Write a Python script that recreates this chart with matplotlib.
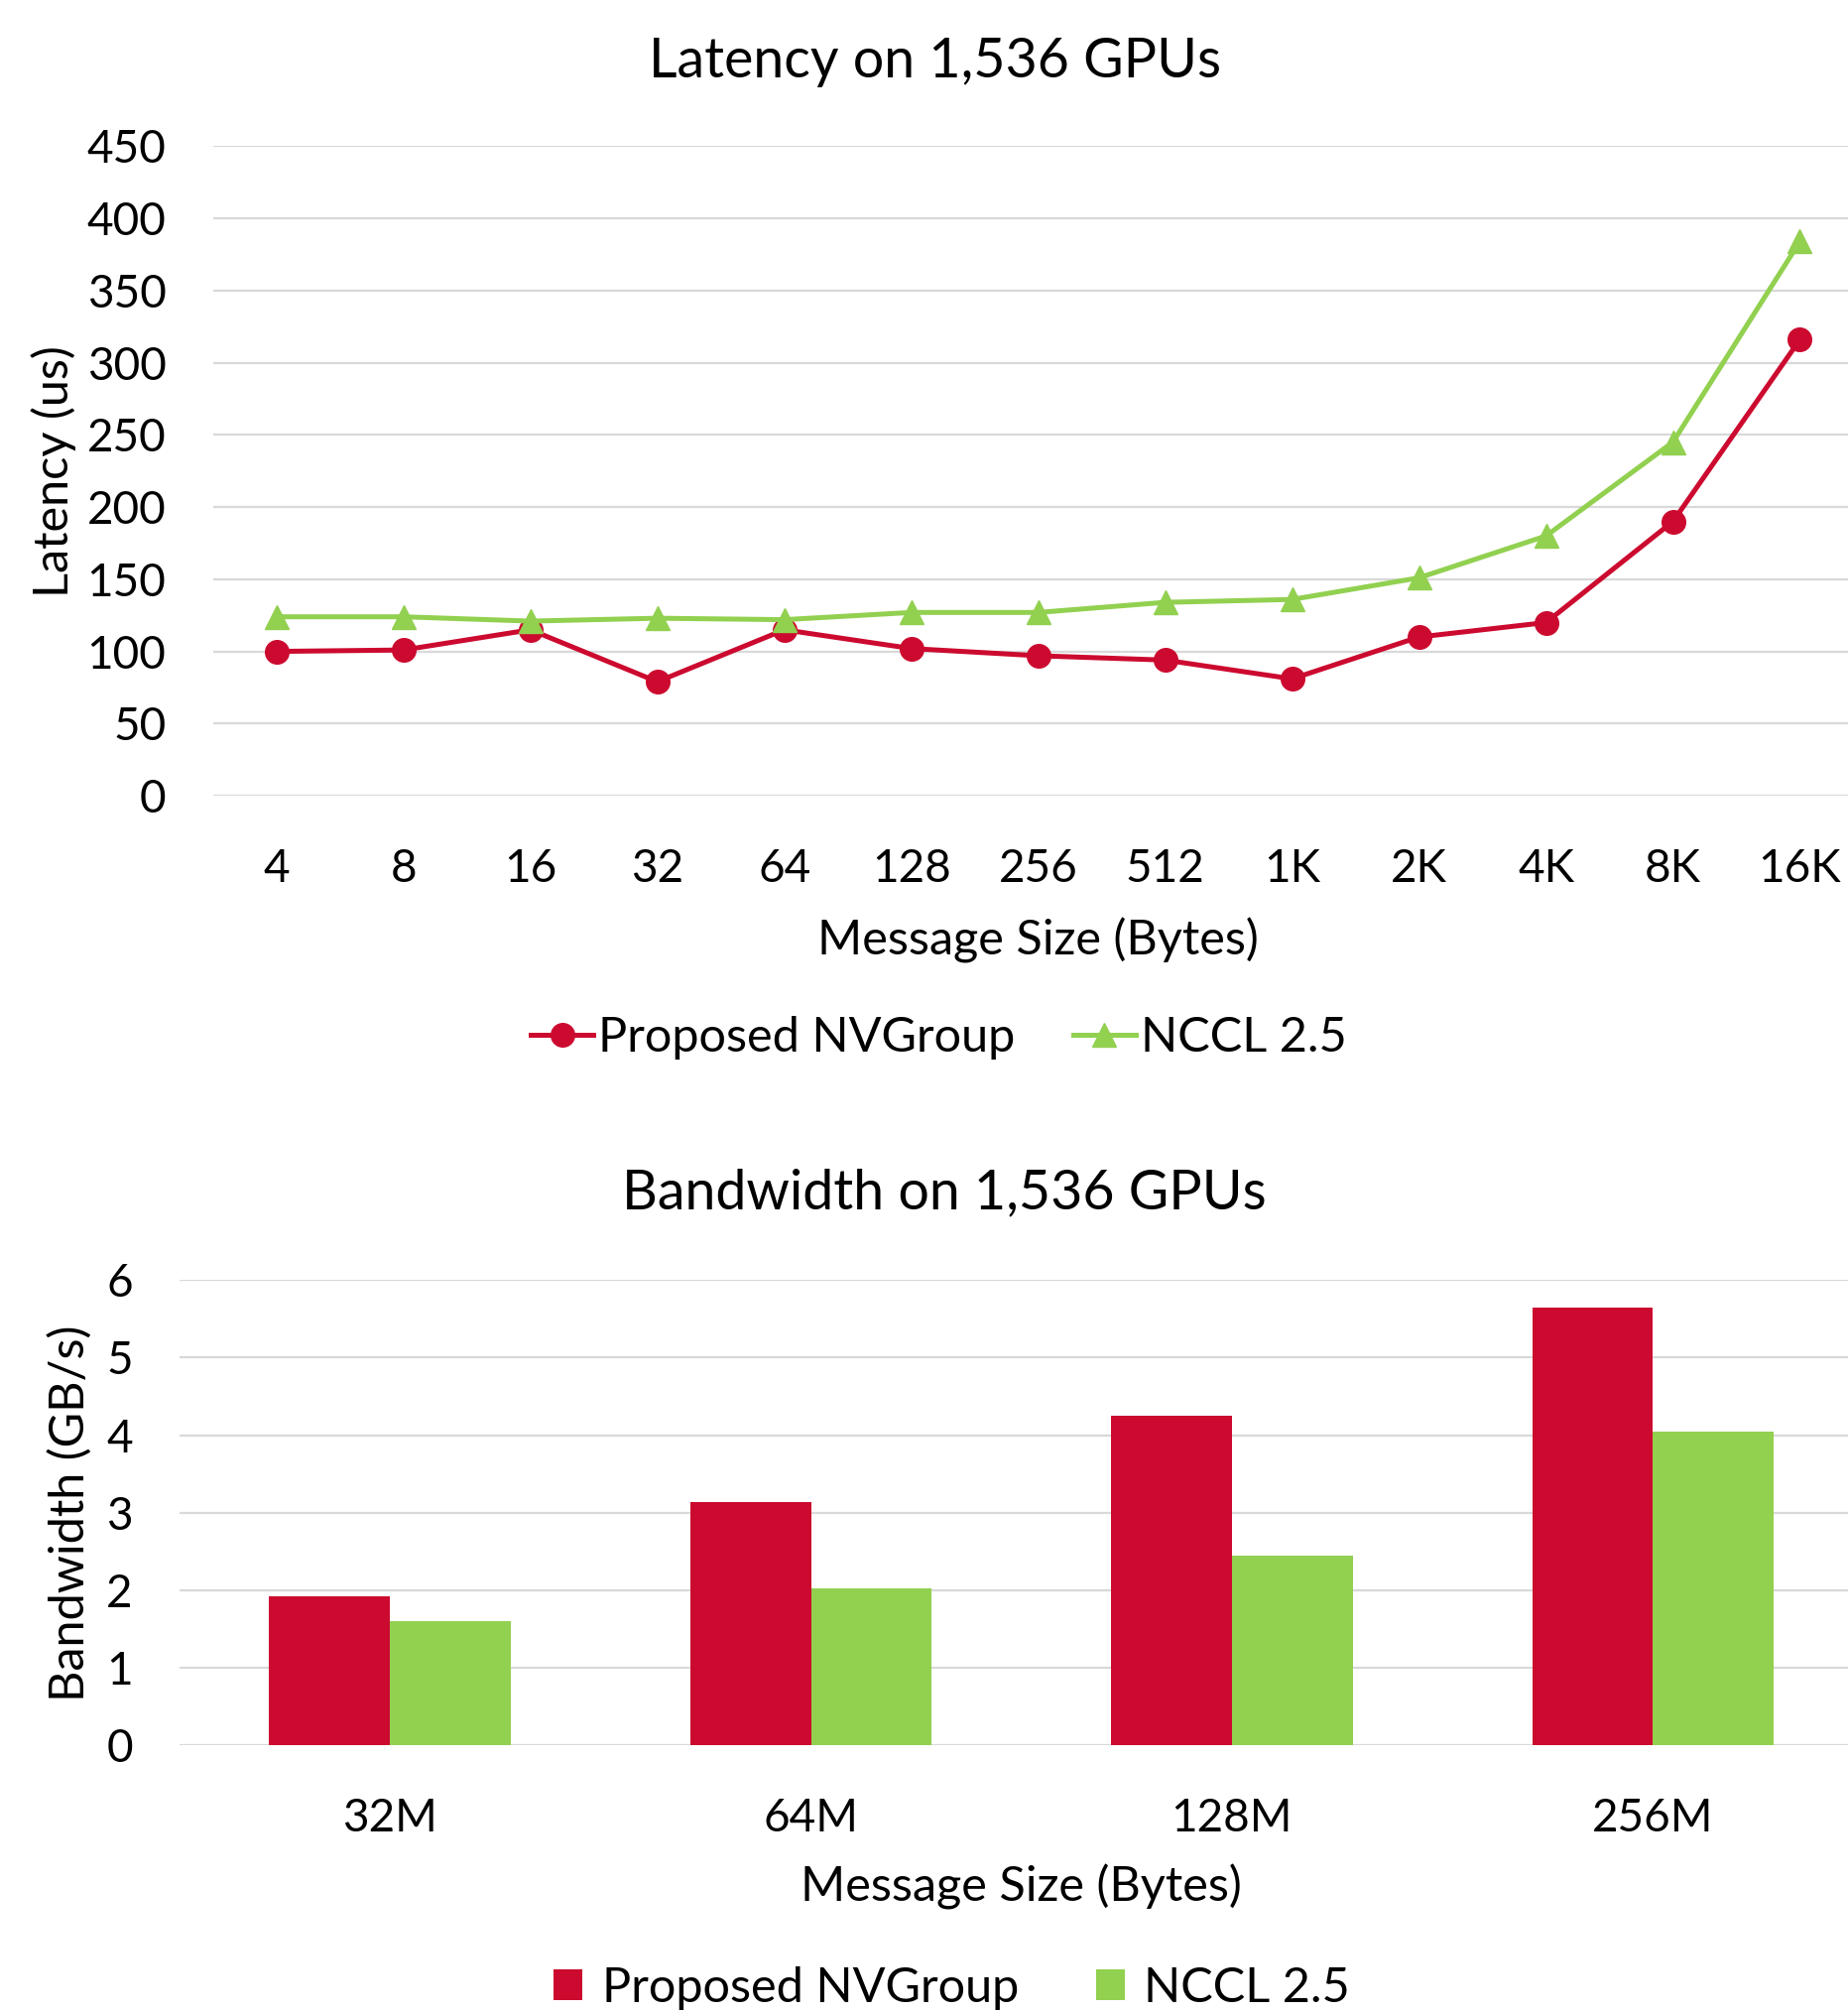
import matplotlib
matplotlib.use('Agg')
import matplotlib.pyplot as plt
import numpy as np

plt.rcParams['font.family'] = ['Lato', 'DejaVu Sans']

# 延迟数据 (us)
sizes_small = ['4', '8', '16', '32', '64', '128', '256', '512', '1K', '2K', '4K', '8K', '16K']
latency_nvgroup = [100, 101, 115, 79, 115, 102, 97, 94, 81, 110, 120, 190, 316]
latency_nccl = [124, 124, 121, 123, 122, 127, 127, 134, 136, 151, 180, 245, 384]

# 带宽数据 (GB/s)
sizes_large = ['32M', '64M', '128M', '256M']
bw_nvgroup = [1.92, 3.14, 4.25, 5.64]
bw_nccl = [1.60, 2.03, 2.45, 4.05]

RED = '#CC0A2F'
GREEN = '#92D050'
GRID = '#D9D9D9'
TICK_FS = 33
LABEL_FS = 35
TITLE_FS = 40

fig = plt.figure(figsize=(18.63, 20.28), dpi=100)

def style_axes(ax):
    for s in ax.spines.values():
        s.set_visible(False)
    ax.tick_params(axis='both', length=0, labelsize=TICK_FS)
    ax.tick_params(axis='x', pad=38)
    ax.tick_params(axis='y', pad=34)
    ax.grid(axis='y', color=GRID, linewidth=1.6)
    ax.set_axisbelow(True)

# 上图：延迟折线
ax1 = fig.add_axes([0.1153, 0.6045, 0.893, 0.3228])
x = np.arange(len(sizes_small))
ax1.plot(x, latency_nvgroup, color=RED, linewidth=3.6, marker='o', markersize=17,
         label='Proposed NVGroup')
ax1.plot(x, latency_nccl, color=GREEN, linewidth=3.6, marker='^', markersize=17,
         label='NCCL 2.5')
ax1.set_xlim(-0.5, len(sizes_small) - 0.5)
ax1.set_ylim(0, 450)
ax1.set_yticks(range(0, 451, 50))
ax1.set_xticks(x)
ax1.set_xticklabels(sizes_small)
style_axes(ax1)
ax1.set_xlabel('Message Size (Bytes)', fontsize=LABEL_FS, labelpad=20)
ax1.set_ylabel('Latency (us)', fontsize=LABEL_FS, labelpad=8)
fig.text(0.506, 0.969, 'Latency on 1,536 GPUs', fontsize=TITLE_FS, ha='center', va='center')
fig.legend(*ax1.get_legend_handles_labels(), loc='center', bbox_to_anchor=(0.508, 0.484),
           ncol=2, frameon=False, fontsize=LABEL_FS, handlelength=1.3, handletextpad=0.1,
           columnspacing=1.2)

# 下图：带宽柱状图
ax2 = fig.add_axes([0.0972, 0.1324, 0.9111, 0.2315])
xb = np.arange(len(sizes_large))
w = 0.287
ax2.bar(xb - w / 2, bw_nvgroup, width=w, color=RED, label='Proposed NVGroup')
ax2.bar(xb + w / 2, bw_nccl, width=w, color=GREEN, label='NCCL 2.5')
ax2.set_xlim(-0.5, len(sizes_large) - 0.5)
ax2.set_ylim(0, 6)
ax2.set_yticks(range(0, 7))
ax2.set_xticks(xb)
ax2.set_xticklabels(sizes_large)
style_axes(ax2)
ax2.set_xlabel('Message Size (Bytes)', fontsize=LABEL_FS, labelpad=18)
ax2.set_ylabel('Bandwidth (GB/s)', fontsize=LABEL_FS, labelpad=10)
fig.text(0.511, 0.407, 'Bandwidth on 1,536 GPUs', fontsize=TITLE_FS, ha='center', va='center')
fig.legend(*ax2.get_legend_handles_labels(), loc='center', bbox_to_anchor=(0.515, 0.012),
           ncol=2, frameon=False, fontsize=LABEL_FS, handlelength=0.6, handleheight=0.6,
           handletextpad=0.4, columnspacing=1.6)

fig.savefig('out.png', dpi=100)
